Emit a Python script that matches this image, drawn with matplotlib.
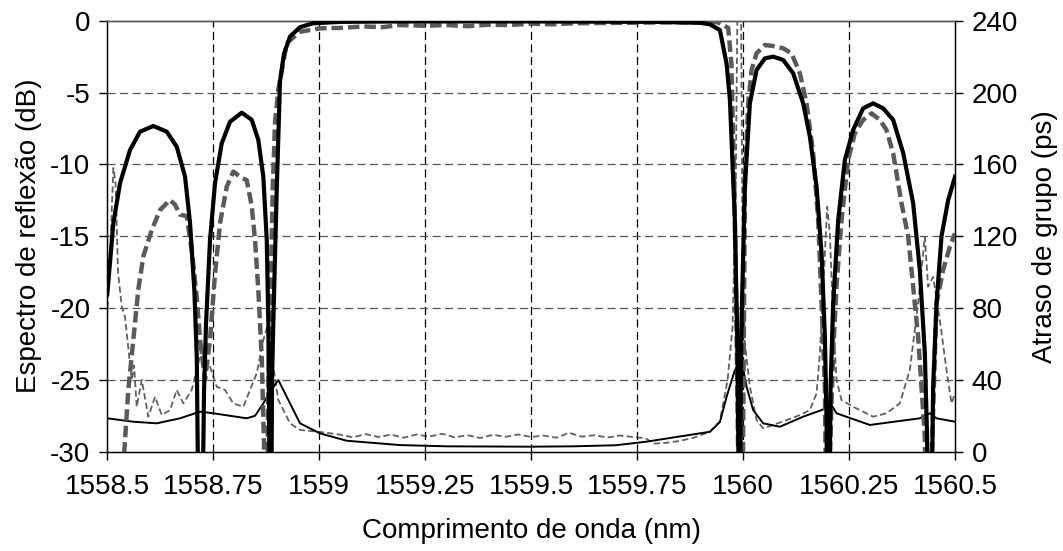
import numpy as np
import matplotlib
matplotlib.use("Agg")
import matplotlib.pyplot as plt

plt.rcParams['font.family'] = ['Liberation Sans', 'DejaVu Sans']

# Simulated reflection spectrum (dB) - thick black solid
sim_refl_x = [1558.5007, 1558.5149, 1558.5307, 1558.5542, 1558.5778, 1558.6092, 1558.6408, 1558.6644,
              1558.6840, 1558.6958, 1558.7059, 1558.7116, 1558.7139, 1558.7205, 1558.7288, 1558.7335,
              1558.7429, 1558.7547, 1558.7705, 1558.7901, 1558.8177, 1558.8413, 1558.8568, 1558.8686,
              1558.8767, 1558.8804, 1558.8828, 1558.8851, 1558.8892, 1558.8922, 1558.9002, 1558.9080,
              1558.9174, 1558.9316, 1558.9551, 1558.9857, 1559.0500, 1559.2000, 1559.5000, 1559.8000,
              1559.9000, 1559.9219, 1559.9455, 1559.9613, 1559.9691, 1559.9809, 1559.9863, 1559.9891,
              1559.9914, 1559.9949, 1559.9966, 1560.0044, 1560.0162, 1560.0320, 1560.0516, 1560.0711,
              1560.0947, 1560.1183, 1560.1419, 1560.1577, 1560.1735, 1560.1853, 1560.1931, 1560.1971,
              1560.2008, 1560.2065, 1560.2126, 1560.2244, 1560.2402, 1560.2598, 1560.2833, 1560.3069,
              1560.3305, 1560.3541, 1560.3777, 1560.4013, 1560.4170, 1560.4288, 1560.4342, 1560.4406,
              1560.4484, 1560.4564, 1560.4682, 1560.4838, 1560.5000]
sim_refl_y = [-19.0, -14.1, -11.3, -9.0, -7.72, -7.33, -7.72, -8.77,
              -10.86, -14.1, -18.74, -23.4, -29.9, -45.0, -25.7, -21.06,
              -15.26, -11.3, -8.53, -7.03, -6.4, -6.9, -8.3, -10.86,
              -15.26, -21.06, -29.9, -45.0, -25.0, -21.0, -11.8, -4.2,
              -2.3, -1.1, -0.45, -0.18, -0.08, -0.05, -0.05, -0.08,
              -0.15, -0.25, -0.65, -3.0, -5.5, -14.0, -22.0, -29.9,
              -45.0, -25.0, -20.8, -11.55, -5.75, -3.43, -2.62, -2.5,
              -2.73, -3.66, -5.75, -8.07, -11.55, -16.2, -22.0, -27.8,
              -45.0, -25.5, -19.7, -13.9, -9.7, -7.6, -6.1, -5.75,
              -6.1, -6.9, -9.2, -12.7, -17.35, -23.1, -29.0, -45.0,
              -25.5, -19.7, -15.0, -12.5, -10.86]

# Measured reflection spectrum (dB) - thick gray dashed
meas_refl_x = [1558.5000, 1558.5384, 1558.5502, 1558.5620, 1558.5738, 1558.5856, 1558.6054, 1558.6250,
               1558.6486, 1558.6603, 1558.6721, 1558.6879, 1558.6997, 1558.7115, 1558.7193, 1558.7311,
               1558.7429, 1558.7547, 1558.7665, 1558.7823, 1558.7978, 1558.8137, 1558.8294, 1558.8413,
               1558.8490, 1558.8568, 1558.8648, 1558.8702, 1558.8750, 1558.8804, 1558.8860, 1558.8907,
               1558.8962, 1558.9040, 1558.9237, 1558.9551, 1559.0024, 1559.0500, 1559.1040, 1559.1500,
               1559.1910, 1559.2500, 1559.3000, 1559.3500, 1559.4000, 1559.4500, 1559.5000, 1559.5500,
               1559.6000, 1559.7000, 1559.8000, 1559.9000, 1559.9400, 1559.9651, 1559.9726, 1559.9797,
               1559.9850, 1559.9889, 1559.9953, 1560.0000, 1560.0044, 1560.0122, 1560.0203, 1560.0320,
               1560.0516, 1560.0711, 1560.0947, 1560.1145, 1560.1341, 1560.1499, 1560.1655, 1560.1773,
               1560.1853, 1560.1931, 1560.1981, 1560.2052, 1560.2126, 1560.2205, 1560.2323, 1560.2479,
               1560.2637, 1560.2833, 1560.3031, 1560.3226, 1560.3384, 1560.3541, 1560.3738, 1560.3894,
               1560.4013, 1560.4130, 1560.4210, 1560.4288, 1560.4335, 1560.4453, 1560.4564, 1560.4720,
               1560.4882, 1560.5000]
meas_refl_y = [-45.0, -31.0, -25.7, -22.2, -18.7, -16.4, -14.57, -13.17,
               -12.48, -12.8, -13.5, -13.6, -15.96, -19.2, -22.2, -25.0,
               -22.2, -17.6, -14.1, -11.55, -10.5, -10.86, -11.1, -12.9,
               -15.26, -18.74, -23.4, -29.4, -40.0, -25.7, -18.7, -11.8,
               -7.1, -4.8, -1.57, -0.77, -0.53, -0.5, -0.4, -0.45,
               -0.3, -0.35, -0.3, -0.38, -0.28, -0.3, -0.2, -0.25,
               -0.18, -0.15, -0.12, -0.1, -0.1, -0.5, -3.0, -12.0,
               -22.0, -31.0, -40.0, -30.0, -11.55, -5.75, -3.43, -2.27,
               -1.69, -1.76, -1.92, -2.27, -3.66, -5.75, -9.23, -13.87,
               -19.67, -25.5, -40.0, -30.0, -23.1, -18.5, -13.87, -9.7,
               -7.84, -6.9, -6.45, -6.9, -7.6, -9.23, -12.7, -15.0,
               -18.5, -22.0, -25.5, -28.95, -40.0, -30.0, -19.67, -17.35,
               -15.7, -14.8]

# Simulated group delay (ps) - thin black solid
sim_delay_x = [1558.5007, 1558.5620, 1558.6172, 1558.6722, 1558.7193, 1558.7507, 1558.8295, 1558.8491,
               1558.8686, 1558.8844, 1558.9040, 1558.9238, 1558.9552, 1559.0024, 1559.0653, 1559.1910,
               1559.3000, 1559.5000, 1559.6000, 1559.7000, 1559.7726, 1559.9219, 1559.9455, 1559.9613,
               1559.9809, 1559.9966, 1560.0084, 1560.0239, 1560.0475, 1560.0869, 1560.1418, 1560.1970,
               1560.2088, 1560.2206, 1560.2991, 1560.4170, 1560.4406, 1560.4564, 1560.5000]
sim_delay_y = [18.6, 16.7, 15.8, 18.6, 22.3, 21.4, 18.6, 20.0,
               26.9, 33.4, 39.9, 30.6, 15.8, 10.2, 6.1, 3.7,
               3.0, 2.8, 3.0, 3.6, 5.6, 11.1, 16.5, 30.6,
               45.5, 51.0, 36.2, 23.2, 15.8, 13.9, 19.5, 24.2,
               26.0, 21.4, 14.9, 18.6, 21.4, 18.6, 16.7]

# Measured group delay (ps) - thin gray dashed
meas_delay_x = [1558.5000, 1558.5071, 1558.5149, 1558.5200, 1558.5259, 1558.5347, 1558.5424, 1558.5582,
                1558.5637, 1558.5700, 1558.5818, 1558.5974, 1558.6132, 1558.6290, 1558.6486, 1558.6644,
                1558.6799, 1558.6997, 1558.7153, 1558.7233, 1558.7287, 1558.7429, 1558.7587, 1558.7782,
                1558.7978, 1558.8214, 1558.8372, 1558.8530, 1558.8686, 1558.8804, 1558.8884, 1558.9040,
                1558.9316, 1558.9551, 1559.0024, 1559.0500, 1559.0800, 1559.1100, 1559.1400, 1559.1700,
                1559.2000, 1559.2300, 1559.2600, 1559.2900, 1559.3200, 1559.3500, 1559.3800, 1559.4100,
                1559.4400, 1559.4700, 1559.5000, 1559.5300, 1559.5600, 1559.5900, 1559.6200, 1559.6500,
                1559.6800, 1559.7100, 1559.7400, 1559.7700, 1559.7900, 1559.8200, 1559.8500, 1559.8800,
                1559.9219, 1559.9455, 1559.9637, 1559.9755, 1559.9825, 1559.9870, 1559.9953, 1559.9988,
                1560.0045, 1560.0162, 1560.0320, 1560.0476, 1560.0711, 1560.1027, 1560.1341, 1560.1577,
                1560.1735, 1560.1813, 1560.1931, 1560.1985, 1560.2048, 1560.2126, 1560.2206, 1560.2323,
                1560.2598, 1560.2833, 1560.3069, 1560.3385, 1560.3698, 1560.3934, 1560.4130, 1560.4288,
                1560.4366, 1560.4484, 1560.4642, 1560.4800, 1560.4918, 1560.5000]
meas_delay_y = [75.0, 110.0, 158.0, 150.0, 100.0, 80.7, 75.0, 40.0,
                48.0, 25.0, 40.0, 19.5, 30.6, 20.4, 23.2, 34.4,
                26.9, 34.4, 49.2, 58.0, 50.0, 47.3, 36.2, 34.4,
                26.9, 25.0, 34.4, 43.7, 62.2, 71.5, 52.9, 28.8,
                15.8, 12.1, 11.0, 9.5, 8.0, 9.8, 8.2, 9.5,
                7.8, 9.6, 8.4, 10.0, 8.0, 9.2, 7.6, 9.4,
                8.3, 9.6, 8.2, 9.0, 7.8, 10.5, 8.4, 9.2,
                7.9, 9.0, 8.2, 7.5, 4.5, 5.0, 6.0, 7.5,
                11.1, 17.0, 40.0, 70.0, 140.0, 250.0, 250.0, 120.0,
                60.0, 36.2, 17.6, 13.0, 14.9, 17.6, 20.4, 23.2,
                32.5, 54.8, 110.5, 136.4, 121.6, 73.3, 39.9, 28.8,
                25.0, 22.3, 19.5, 21.4, 26.9, 45.5, 82.6, 119.7,
                91.9, 97.4, 73.3, 45.5, 26.9, 32.5]

x_ticks = [1558.5, 1558.75, 1559, 1559.25, 1559.5, 1559.75, 1560, 1560.25, 1560.5]
x_tick_labels = ['1558.5', '1558.75', '1559', '1559.25', '1559.5', '1559.75', '1560', '1560.25', '1560.5']
y_left_ticks = [-30, -25, -20, -15, -10, -5, 0]
y_right_ticks = [0, 40, 80, 120, 160, 200, 240]

FS = 20

fig = plt.figure(figsize=(10.63, 5.51), dpi=100)
ax = fig.add_axes([0.1007, 0.1802, 0.7977, 0.7822])
ax2 = ax.twinx()

# grid
for xv in x_ticks[1:-1]:
    ax.axvline(xv, color='black', lw=0.9, ls=(0, (6.5, 3.5)), zorder=0)
for yv in y_left_ticks[1:-1]:
    ax.axhline(yv, color='#555555', lw=0.9, ls=(0, (6.5, 3.5)), zorder=0)

ax2.plot(meas_delay_x, meas_delay_y, color='#606060', lw=1.3, ls=(0, (3.5, 1.8)), zorder=2)
ax2.plot(sim_delay_x, sim_delay_y, color='black', lw=1.4, zorder=3)
ax.plot(meas_refl_x, meas_refl_y, color='#5a5a5a', lw=3.2, ls=(0, (2.6, 1.1)), zorder=4)
ax.plot(sim_refl_x, sim_refl_y, color='black', lw=3.0, zorder=5)

ax.set_zorder(ax2.get_zorder() + 1)
ax.patch.set_visible(False)

ax.set_xlim(1558.5, 1560.5)
ax.set_ylim(-30, 0)
ax2.set_ylim(0, 240)
ax.set_xticks(x_ticks)
ax.set_xticklabels(x_tick_labels)
ax.set_yticks(y_left_ticks)
ax.set_yticklabels([str(v) for v in y_left_ticks])
ax2.set_yticks(y_right_ticks)

for a in (ax, ax2):
    a.tick_params(direction='out', length=6, width=1, labelsize=FS, pad=6)
    a.spines['top'].set_color('#555555')
    a.spines['top'].set_linewidth(1.0)
ax.tick_params(axis='x', pad=10)
ax.spines['left'].set_linewidth(1.0)
ax.spines['bottom'].set_linewidth(1.0)
ax2.spines['right'].set_linewidth(1.0)

ax.set_xlabel('Comprimento de onda (nm)', fontsize=FS, labelpad=13)
ax.set_ylabel('Espectro de reflexão (dB)', fontsize=FS, labelpad=6)
ax2.set_ylabel('Atraso de grupo (ps)', fontsize=FS, labelpad=10)

fig.savefig('out.png', dpi=100)
